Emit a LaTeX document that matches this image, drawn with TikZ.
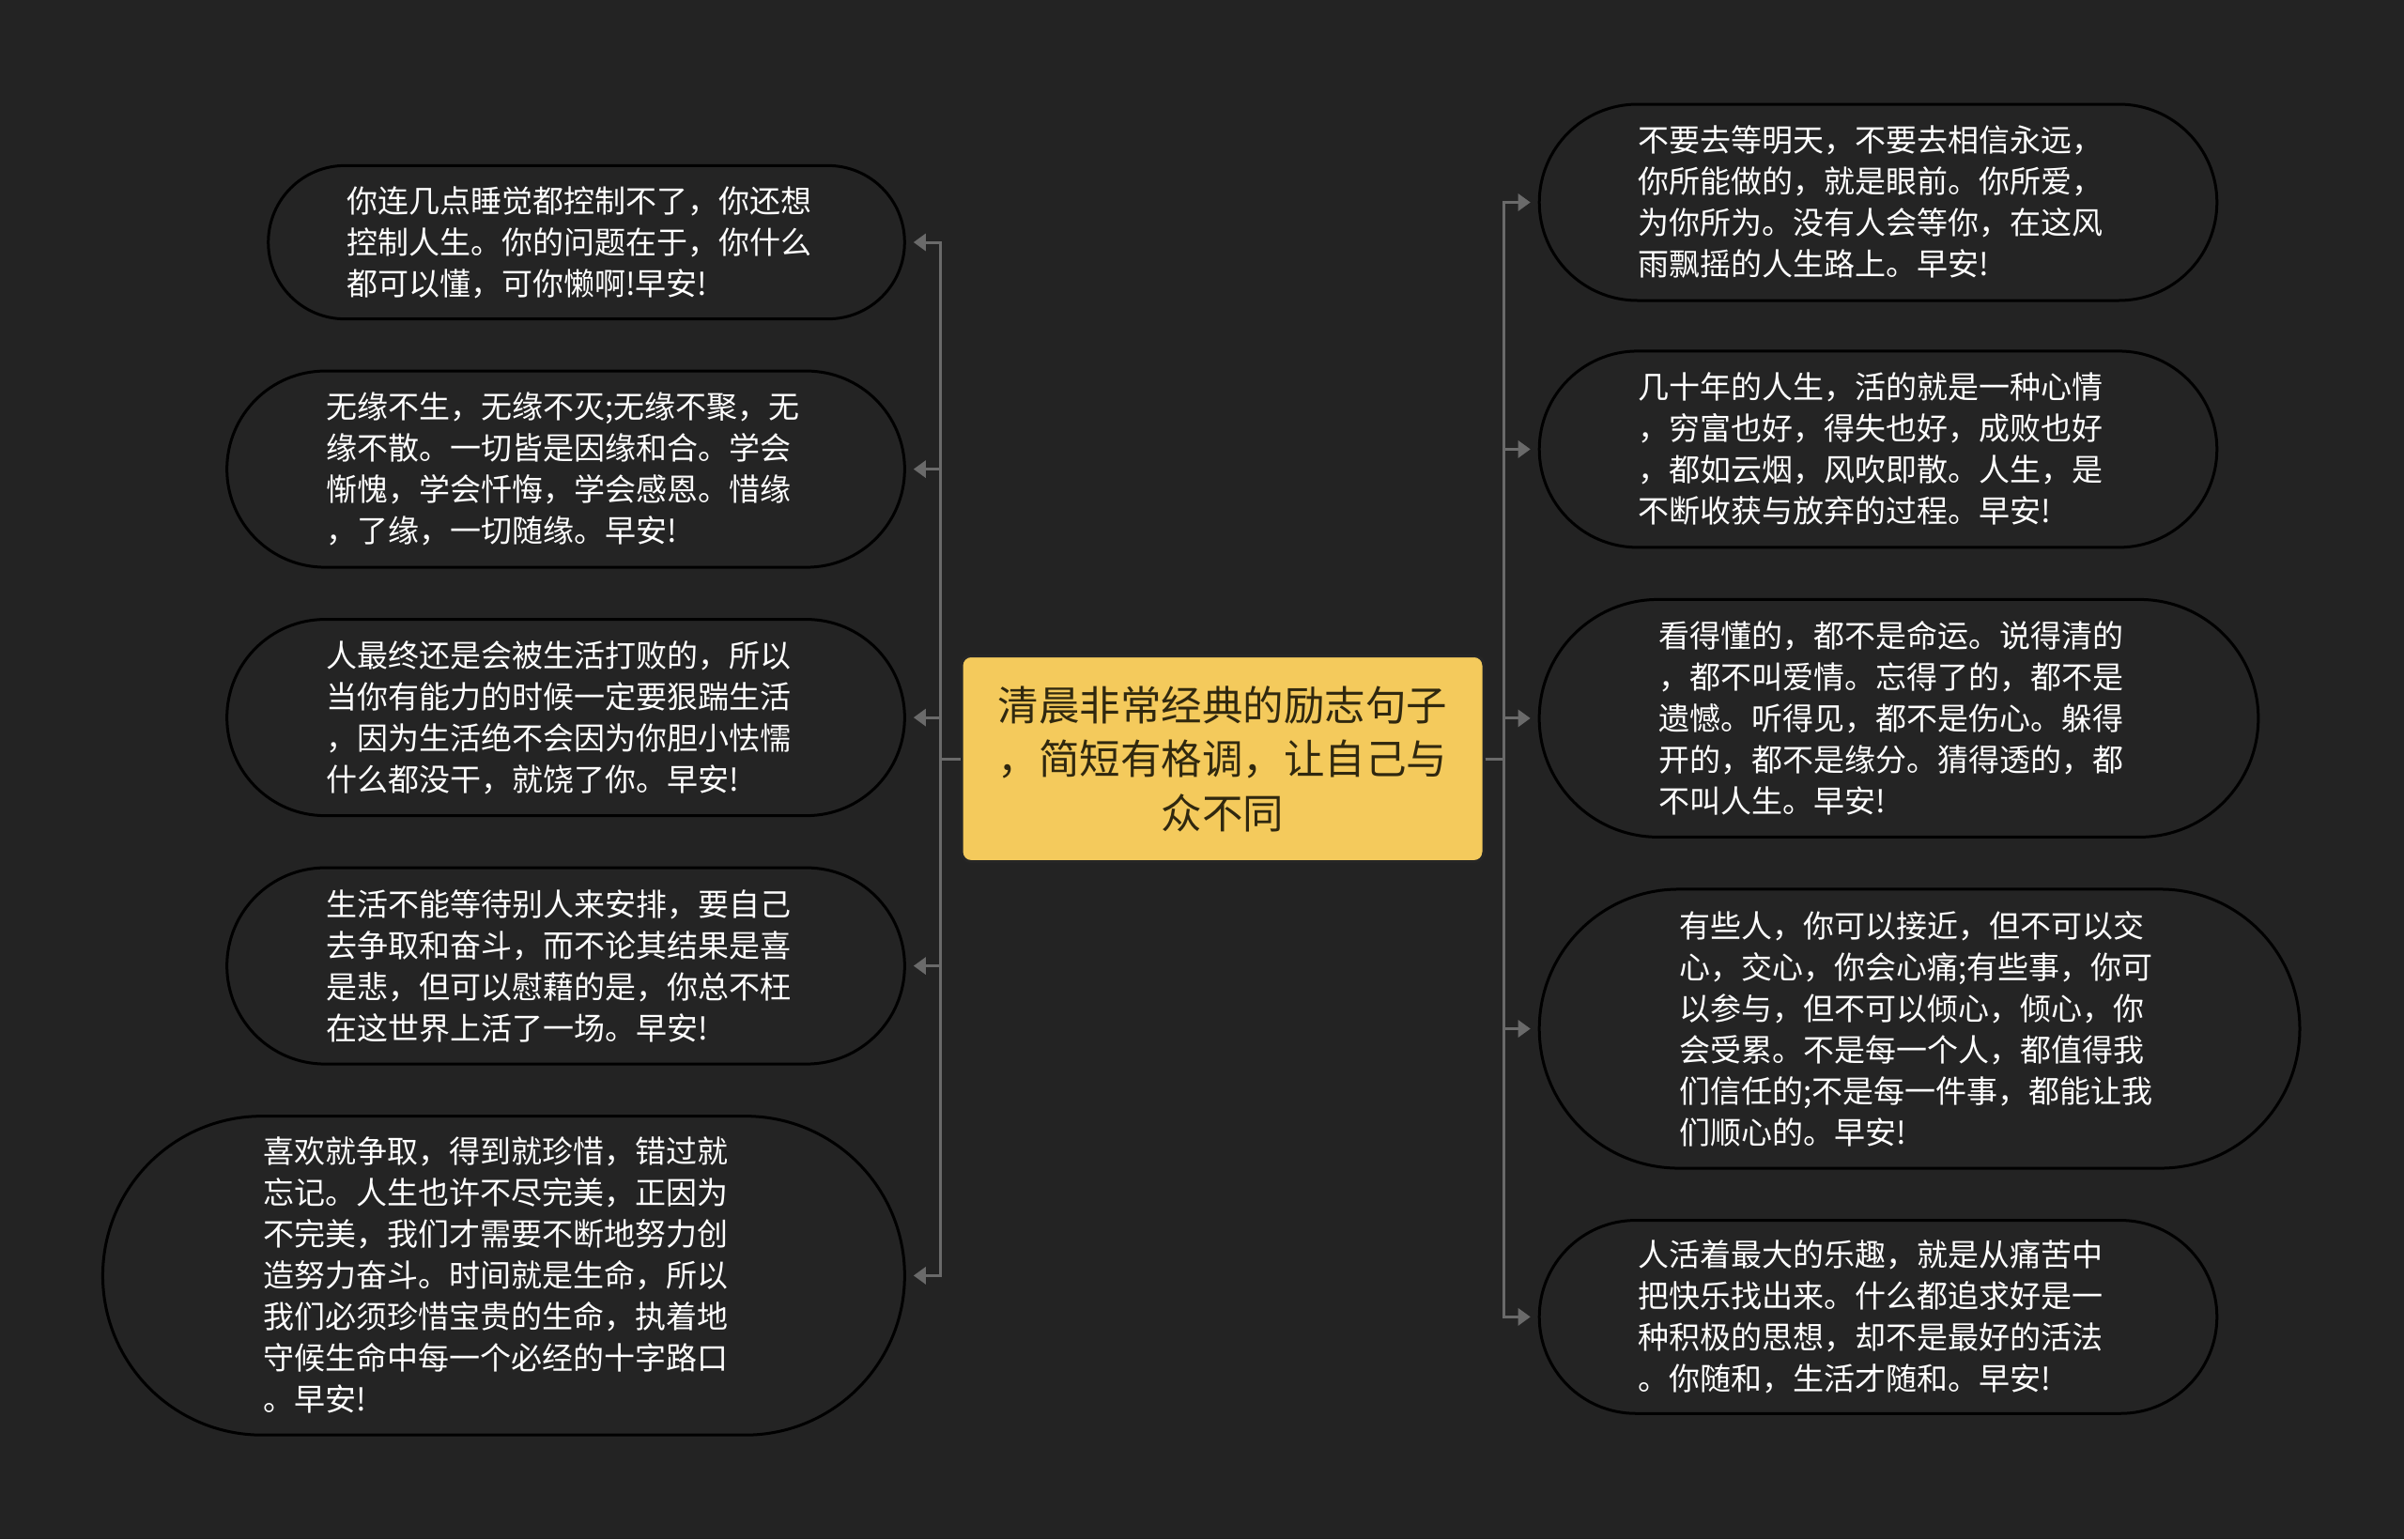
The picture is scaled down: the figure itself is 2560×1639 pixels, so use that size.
\documentclass[tikz,border=0pt]{standalone}
\usepackage{fontspec}
\setmainfont{Noto Sans CJK SC}
\usetikzlibrary{arrows.meta}
\definecolor{bg}{HTML}{232323}
\definecolor{nodefill}{HTML}{242424}
\definecolor{linegray}{HTML}{6A6A6A}
\definecolor{centerfill}{HTML}{F4CA5C}
\definecolor{centertext}{HTML}{30280F}
\begin{document}
\begin{tikzpicture}[x=1pt,y=1pt,
  leaf/.style={draw=black, line width=3pt, fill=nodefill, text=white, align=left,
    inner sep=0pt, font=\fontsize{33}{44}\selectfont, text width=511pt},
  centerbox/.style={draw=black!85, line width=3pt, fill=centerfill, text=centertext,
    align=center, inner sep=0pt, rounded corners=10pt,
    font=\fontsize{43.5}{57.5}\selectfont, text width=520pt},
  conn/.style={draw=linegray, line width=3pt, -{Triangle[length=13pt,width=18pt]},
    shorten >=8pt}]
\fill[bg] (0,0) rectangle (2560,-1639);
\useasboundingbox (0,0) rectangle (2560,-1639);

\node[centerbox, minimum width=556pt, minimum height=219pt] (c) at (1302,-808)
  {清晨非常经典的励志句子\\，简短有格调，让自己与\\众不同};

% left nodes
\node[leaf, minimum width=677.6pt, minimum height=163.3pt, rounded corners=81.6pt] (l1) at (624.5,-258)
  {你连几点睡觉都控制不了，你还想\\控制人生。你的问题在于，你什么\\都可以懂，可你懒啊!早安!};
\node[leaf, minimum width=721.7pt, minimum height=209pt, rounded corners=104.5pt] (l2) at (602.5,-499.6)
  {无缘不生，无缘不灭;无缘不聚，无\\缘不散。一切皆是因缘和合。学会\\惭愧，学会忏悔，学会感恩。惜缘\\，了缘，一切随缘。早安!};
\node[leaf, minimum width=721.7pt, minimum height=209pt, rounded corners=104.5pt] (l3) at (602.5,-764.1)
  {人最终还是会被生活打败的，所以\\当你有能力的时候一定要狠踹生活\\，因为生活绝不会因为你胆小怯懦\\什么都没干，就饶了你。早安!};
\node[leaf, minimum width=721.7pt, minimum height=209pt, rounded corners=104.5pt] (l4) at (602.5,-1028.6)
  {生活不能等待别人来安排，要自己\\去争取和奋斗，而不论其结果是喜\\是悲，但可以慰藉的是，你总不枉\\在这世界上活了一场。早安!};
\node[leaf, minimum width=853.9pt, minimum height=339.6pt, rounded corners=169.8pt] (l5) at (536.4,-1358.4)
  {喜欢就争取，得到就珍惜，错过就\\忘记。人生也许不尽完美，正因为\\不完美，我们才需要不断地努力创\\造努力奋斗。时间就是生命，所以\\我们必须珍惜宝贵的生命，执着地\\守候生命中每一个必经的十字路口\\。早安!};

% right nodes
\node[leaf, minimum width=721.6pt, minimum height=209pt, rounded corners=104.5pt] (r1) at (2000,-215.5)
  {不要去等明天，不要去相信永远，\\你所能做的，就是眼前。你所爱，\\为你所为。没有人会等你，在这风\\雨飘摇的人生路上。早安!};
\node[leaf, minimum width=721.6pt, minimum height=209pt, rounded corners=104.5pt] (r2) at (2000,-478.4)
  {几十年的人生，活的就是一种心情\\，穷富也好，得失也好，成败也好\\，都如云烟，风吹即散。人生，是\\不断收获与放弃的过程。早安!};
\node[leaf, minimum width=765.7pt, minimum height=253pt, rounded corners=126.5pt] (r3) at (2022,-764.9)
  {看得懂的，都不是命运。说得清的\\，都不叫爱情。忘得了的，都不是\\遗憾。听得见，都不是伤心。躲得\\开的，都不是缘分。猜得透的，都\\不叫人生。早安!};
\node[leaf, minimum width=809.8pt, minimum height=297.1pt, rounded corners=148.5pt] (r4) at (2044.1,-1095.5)
  {有些人，你可以接近，但不可以交\\心，交心，你会心痛;有些事，你可\\以参与，但不可以倾心，倾心，你\\会受累。不是每一个人，都值得我\\们信任的;不是每一件事，都能让我\\们顺心的。早安!};
\node[leaf, minimum width=721.6pt, minimum height=205.7pt, rounded corners=102.8pt] (r5) at (2000,-1402.4)
  {人活着最大的乐趣，就是从痛苦中\\把快乐找出来。什么都追求好是一\\种积极的思想，却不是最好的活法\\。你随和，生活才随和。早安!};

\coordinate (lt) at (1001,-808);
\coordinate (rt) at (1601.6,-808);

\foreach \n in {l1,l2,l3,l4,l5}
  \draw[conn] (c.west) -- (lt) |- (\n.east);
\foreach \n in {r1,r2,r3,r4,r5}
  \draw[conn] (c.east) -- (rt) |- (\n.west);
\end{tikzpicture}
\end{document}
